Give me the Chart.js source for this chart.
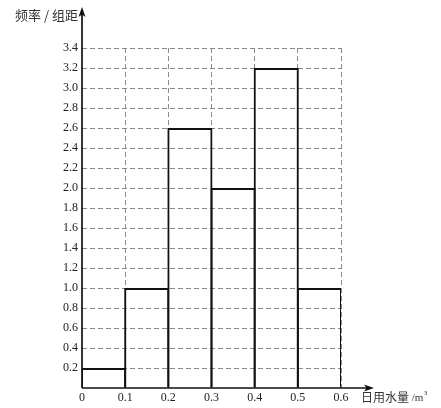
<!DOCTYPE html>
<html lang="zh">
<head>
  <meta charset="UTF-8">
  <title>频率分布直方图</title>
  <script src="https://cdn.jsdelivr.net/npm/chart.js"></script>
  <style>
    body { margin: 0; background: #fff; }
    canvas { display: block; }
  </style>
</head>
<body>
<canvas id="hist" width="441" height="408"></canvas>
<script>
// bins of daily water use (m³) and frequency / bin width
const binStarts = [0, 0.1, 0.2, 0.3, 0.4, 0.5];
const binWidth = 0.1;
const densities = [0.2, 1.0, 2.6, 2.0, 3.2, 1.0];
const xRange = [0, 0.6];
const yRange = [0, 3.4];
const yStep = 0.2;
const yTitle = '频率 / 组距';
const xTitle = '日用水量';
const xUnit = ' /m';

const tickFont = { family: "'Liberation Serif', 'DejaVu Serif', serif", size: 12 };
const gridColor = ctx => ctx.tick && ctx.tick.value === 0 ? 'rgba(0,0,0,0)' : '#8a8a8a';

// axes with arrows + axis titles
const axesPlugin = {
  id: 'axes',
  afterDatasetsDraw(chart) {
    const { ctx, chartArea: a } = chart;
    const x0 = chart.scales.x.getPixelForValue(0);
    const y0 = chart.scales.y.getPixelForValue(0);
    ctx.save();
    ctx.strokeStyle = '#111';
    ctx.fillStyle = '#111';
    ctx.lineWidth = 1.7;
    ctx.beginPath();
    ctx.moveTo(x0, y0); ctx.lineTo(x0, 14);
    ctx.moveTo(x0, y0); ctx.lineTo(a.right + 26, y0);
    ctx.stroke();
    // arrow heads
    ctx.beginPath();
    ctx.moveTo(x0, 7); ctx.lineTo(x0 - 3.5, 17); ctx.lineTo(x0, 14.5); ctx.lineTo(x0 + 3.5, 17);
    ctx.closePath(); ctx.fill();
    const tx = a.right + 33;
    ctx.beginPath();
    ctx.moveTo(tx, y0); ctx.lineTo(tx - 10, y0 - 3.5); ctx.lineTo(tx - 7.5, y0); ctx.lineTo(tx - 10, y0 + 3.5);
    ctx.closePath(); ctx.fill();
    // titles
    ctx.fillStyle = '#333';
    ctx.font = "13px 'Noto Sans CJK SC'";
    ctx.textBaseline = 'middle';
    ctx.textAlign = 'right';
    ctx.fillText(yTitle, x0 - 4, 15);
    ctx.textAlign = 'left';
    ctx.font = "12px 'Noto Sans CJK SC'";
    const lx = a.right + 20;
    ctx.fillText(xTitle, lx, y0 + 9);
    let w = ctx.measureText(xTitle).width;
    ctx.font = "11px 'Liberation Serif'";
    ctx.fillText(xUnit, lx + w, y0 + 10);
    w += ctx.measureText(xUnit).width;
    ctx.font = "7px 'Liberation Serif'";
    ctx.fillText('3', lx + w + 0.5, y0 + 5);
    ctx.restore();
  }
};

new Chart(document.getElementById('hist'), {
  type: 'bar',
  data: {
    datasets: [{
      data: binStarts.map((s, i) => ({ x: s + binWidth / 2, y: densities[i] })),
      backgroundColor: 'rgba(0,0,0,0)',
      borderColor: '#111',
      borderWidth: 2,
      borderSkipped: 'start',
      categoryPercentage: 1,
      barPercentage: 1.046
    }]
  },
  options: {
    responsive: false,
    animation: false,
    events: [],
    layout: { padding: { left: 0, right: 100, top: 48, bottom: 0 } },
    plugins: { legend: { display: false }, tooltip: { enabled: false } },
    scales: {
      x: {
        type: 'linear',
        offset: false,
        min: xRange[0], max: xRange[1],
        ticks: {
          stepSize: binWidth,
          font: tickFont, color: '#222', padding: 3,
          callback: v => v === 0 ? '0' : v.toFixed(1)
        },
        grid: { color: gridColor, lineWidth: 1, drawTicks: false, offset: false },
        border: { display: false, dash: [5, 3] },
        afterFit(s) { s.height = 20; s.paddingLeft = 0; s.paddingRight = 0; }
      },
      y: {
        min: yRange[0], max: yRange[1],
        ticks: {
          stepSize: yStep,
          font: tickFont, color: '#222', padding: 4,
          callback: v => Math.abs(v) < 1e-9 ? '' : v.toFixed(1)
        },
        grid: { color: gridColor, lineWidth: 1, drawTicks: false },
        border: { display: false, dash: [5, 3] },
        afterFit(s) { s.width = 82; s.paddingTop = 0; s.paddingBottom = 0; }
      }
    }
  },
  plugins: [axesPlugin]
});
</script>
</body>
</html>
